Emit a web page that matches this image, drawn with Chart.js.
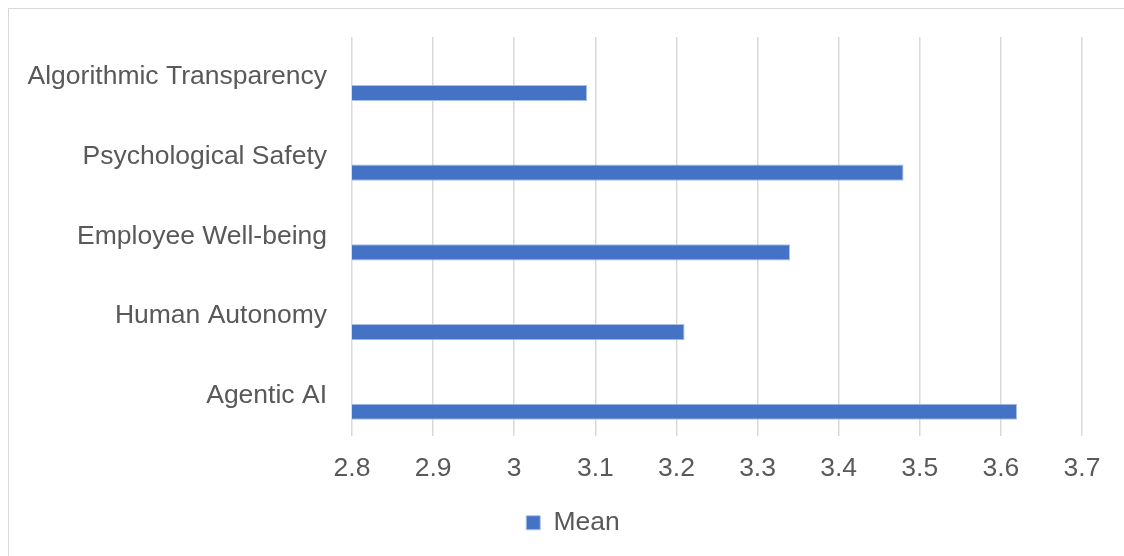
<!DOCTYPE html>
<html>
<head>
<meta charset="utf-8">
<script src="https://cdn.jsdelivr.net/npm/chart.js@4.4.1/dist/chart.umd.min.js"></script>
<style>
    html, body { margin: 0; padding: 0; background: #ffffff; overflow: hidden; }
    #wrap { position: relative; width: 1124px; height: 556px; }
    #frame {
        position: absolute; left: 8px; top: 8px; width: 1300px; height: 700px;
        border: 1px solid #d9d9d9; box-sizing: border-box;
    }
    #chart { position: absolute; left: 0; top: 0; }
</style>
</head>
<body>
<div id="wrap">
    <div id="frame"></div>
    <canvas id="chart" width="1124" height="556"></canvas>
</div>
<script>
const categories = ['Algorithmic Transparency', 'Psychological Safety', 'Employee Well-being', 'Human Autonomy', 'Agentic AI'];
const meanValues = [3.09, 3.48, 3.34, 3.21, 3.62];
const emptySlot = [null, null, null, null, null];
const xMin = 2.8;
const xMax = 3.7;
const xStep = 0.1;

const textColor = '#595959';
const fontFamily = '"Liberation Sans", Arial, sans-serif';

// Excel centres the legend on the whole frame, not on the canvas
const legendShift = {
    id: 'legendShift',
    afterLayout: function(chart) {
        chart.legend.left += 32;
        chart.legend.right += 32;
    }
};

document.addEventListener('DOMContentLoaded', function() {
    const ctx = document.getElementById('chart');

    new Chart(ctx, {
        type: 'bar',
        data: {
            labels: categories,
            datasets: [{
                label: '',
                data: emptySlot,
                backgroundColor: 'rgba(0,0,0,0)'
            }, {
                label: 'Mean',
                data: meanValues,
                backgroundColor: '#4472c4',
                borderColor: '#a9bfe8',
                borderWidth: 1,
                borderSkipped: false
            }]
        },
        options: {
            indexAxis: 'y',
            responsive: false,
            animation: false,
            categoryPercentage: 0.81,
            barPercentage: 0.5,
            layout: {
                padding: { top: 37, right: 42, bottom: 10, left: 0 }
            },
            scales: {
                x: {
                    min: xMin,
                    max: xMax,
                    border: { display: false },
                    grid: {
                        color: '#d9d9d9',
                        lineWidth: 1.5,
                        drawTicks: false
                    },
                    ticks: {
                        stepSize: xStep,
                        color: textColor,
                        padding: 17,
                        font: { family: fontFamily, size: 26.5 },
                        callback: function(value) {
                            return String(Number(value.toFixed(1)));
                        }
                    },
                    afterFit: function(scale) { scale.height = 64; }
                },
                y: {
                    border: { display: false },
                    grid: { display: false, drawTicks: false },
                    ticks: {
                        color: textColor,
                        padding: 25,
                        font: { family: fontFamily, size: 26.5 }
                    },
                    afterFit: function(scale) {
                        scale.width = 352;
                        scale.paddingTop = 0;
                        scale.paddingBottom = 0;
                    }
                }
            },
            plugins: {
                legend: {
                    position: 'bottom',
                    labels: {
                        color: textColor,
                        boxWidth: 14,
                        boxHeight: 14,
                        padding: 10,
                        font: { family: fontFamily, size: 26.5 },
                        filter: function(item) { return item.text !== ''; }
                    }
                },
                tooltip: { enabled: false }
            }
        },
        plugins: [legendShift]
    });
});
</script>
</body>
</html>
